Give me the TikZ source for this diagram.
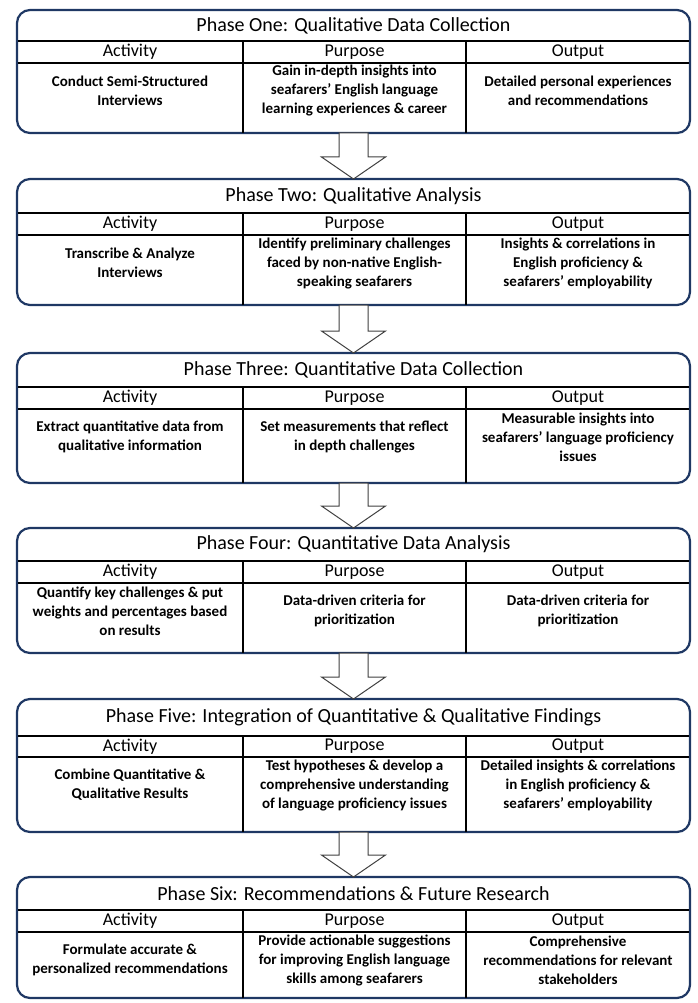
\documentclass[tikz,border=0pt]{standalone}
\usepackage{fontspec}
\setmainfont{Carlito}
\usepackage{tikz}
\usetikzlibrary{calc}
\definecolor{navy}{HTML}{1F3864}
\definecolor{ink}{HTML}{000000}
\definecolor{arrowgray}{HTML}{404040}
\tikzset{
  phase/.style={draw=navy, line width=2.2pt, rounded corners=13pt, minimum width=673pt, inner sep=0pt, outer sep=0pt, fill=white},
  rule/.style={draw=ink, line width=1.1pt},
  flow/.style={draw=arrowgray, line width=1pt, fill=white, line join=miter},
  ttl/.style={font=\fontsize{20}{24}\selectfont, inner sep=0pt},
  hdr/.style={font=\fontsize{18}{22}\selectfont, inner sep=0pt},
  cell/.style={font=\bfseries\fontsize{15}{19}\selectfont, align=center, inner sep=0pt}
}
% name, top, title rule, header rule, bottom, title, activity, purpose, output
\newcommand{\phasebox}[9]{%
  \node[phase, minimum height={(#5-#2)*1pt}] (#1) at (353.5,{(#2+#5)/2}) {};
  \draw[rule] (18,#3) -- (689,#3);
  \draw[rule] (18,#4) -- (689,#4);
  \draw[rule] (243,#3) -- (243,#5);
  \draw[rule] (466,#3) -- (466,#5);
  \node[ttl] (#1t) at (353.5,{(#2+#3)/2}) {#6};
  \node[hdr] (#1ha) at (130,{(#3+#4)/2}) {Activity};
  \node[hdr] (#1hp) at (354.5,{(#3+#4)/2}) {Purpose};
  \node[hdr] (#1ho) at (578,{(#3+#4)/2}) {Output};
  \node[cell] (#1a) at (130,{#4+28}) {#7};
  \node[cell] (#1p) at (354.5,{#4+28}) {#8};
  \node[cell] (#1o) at (578,{#4+28}) {#9};
}
\newcommand{\flowarrow}[2]{%
  \draw[flow] let \p1=(#1.south), \p2=(#2.north) in
    (\x1-14.5pt,\y1) -- (\x1-14.5pt,\y2+22pt) -- (\x1-32pt,\y2+22pt) -- (\x2,\y2)
    -- (\x1+32pt,\y2+22pt) -- (\x1+14.5pt,\y2+22pt) -- (\x1+14.5pt,\y1) -- cycle;
}

\begin{document}
\begin{tikzpicture}[x=1pt, y=-1pt]
  \useasboundingbox (0,0) rectangle (697,1003);

  \phasebox{p1}{10}{41}{63}{133}{Phase One: Qualitative Data Collection}
    {Conduct Semi-Structured\\Interviews}
    {Gain in-depth insights into\\seafarers’ English language\\learning experiences \& career}
    {Detailed personal experiences\\and recommendations}
  \phasebox{p2}{179}{213}{235}{305}{Phase Two: Qualitative Analysis}
    {Transcribe \& Analyze\\Interviews}
    {Identify preliminary challenges\\faced by non-native English-\\speaking seafarers}
    {Insights \& correlations in\\English proficiency \&\\seafarers’ employability}
  \phasebox{p3}{353}{387}{409}{483}{Phase Three: Quantitative Data Collection}
    {Extract quantitative data from\\qualitative information}
    {Set measurements that reflect\\in depth challenges}
    {Measurable insights into\\seafarers’ language proficiency\\issues}
  \phasebox{p4}{528}{561}{583}{653}{Phase Four: Quantitative Data Analysis}
    {Quantify key challenges \& put\\weights and percentages based\\on results}
    {Data-driven criteria for\\prioritization}
    {Data-driven criteria for\\prioritization}
  \phasebox{p5}{699}{736}{757}{832}{Phase Five: Integration of Quantitative \& Qualitative Findings}
    {Combine Quantitative \&\\Qualitative Results}
    {Test hypotheses \& develop a\\comprehensive understanding\\of language proficiency issues}
    {Detailed insights \& correlations\\in English proficiency \&\\seafarers’ employability}
  \phasebox{p6}{877}{910}{932}{998}{Phase Six: Recommendations \& Future Research}
    {Formulate accurate \&\\personalized recommendations}
    {Provide actionable suggestions\\for improving English language\\skills among seafarers}
    {Comprehensive\\recommendations for relevant\\stakeholders}

  \flowarrow{p1}{p2}
  \flowarrow{p2}{p3}
  \flowarrow{p3}{p4}
  \flowarrow{p4}{p5}
  \flowarrow{p5}{p6}
\end{tikzpicture}
\end{document}
